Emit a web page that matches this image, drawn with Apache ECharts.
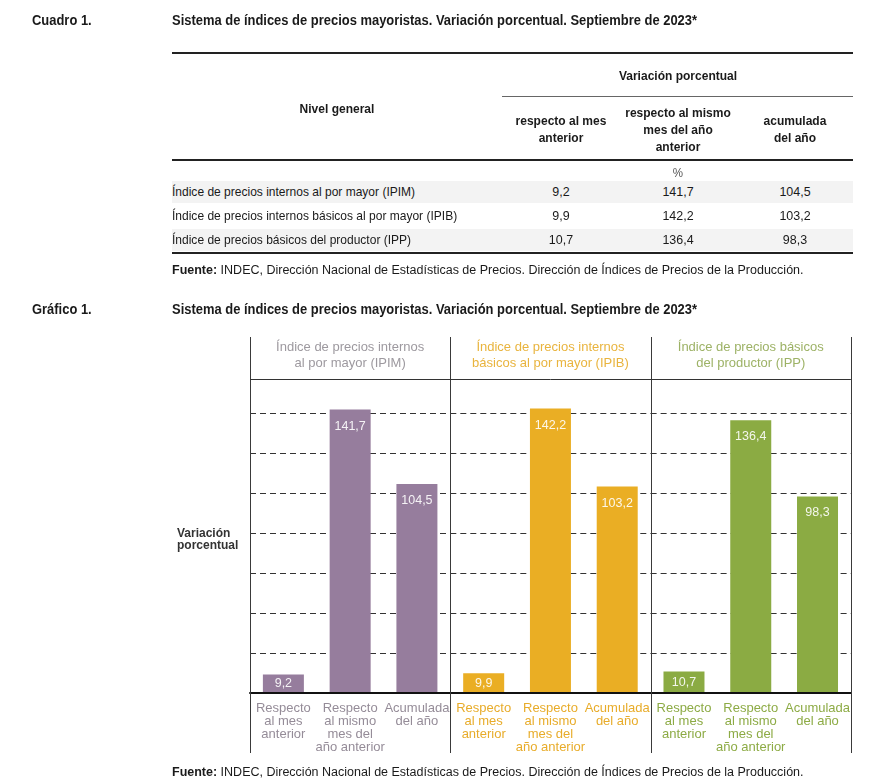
<!DOCTYPE html>
<html><head><meta charset="utf-8">
<script src="https://cdn.jsdelivr.net/npm/echarts@6/dist/echarts.min.js"></script>
<style>
body{margin:0;background:#fff;}
#wrap{position:relative;width:885px;height:784px;overflow:hidden;background:#fff;}
#chart{position:absolute;left:0;top:0;width:885px;height:784px;}
.t{position:absolute;white-space:nowrap;color:#1a1a1a;line-height:16px;}
.nb{font-family:"Liberation Sans",Arial,sans-serif;font-weight:bold;font-size:14px;}
.nr{font-family:"Liberation Sans",Arial,sans-serif;font-size:13px;}
.hd{font-family:"Liberation Sans",Arial,sans-serif;font-weight:bold;font-size:13px;text-align:center;line-height:17px;}
.src{font-family:"Liberation Sans",Arial,sans-serif;font-size:12.5px;}
.rule{position:absolute;background:#222;}
.shade{position:absolute;background:#f3f3f3;}
.c{text-align:center;transform-origin:50% 50%;}
.l{transform-origin:0 50%;}
</style>
</head><body>
<div id="wrap">
<div id="chart"></div>
<div id="topText"></div>
</div>
<script>
// ---------- data ----------
const tableTitle = 'Sistema de índices de precios mayoristas. Variación porcentual. Septiembre de 2023*';
const rowNames = [
  'Índice de precios internos al por mayor (IPIM)',
  'Índice de precios internos básicos al por mayor (IPIB)',
  'Índice de precios básicos del productor (IPP)'
];
const columnHeaders = ['respecto al mes\nanterior', 'respecto al mismo\nmes del año\nanterior', 'acumulada\ndel año'];
const panelTitles = [
  'Índice de precios internos\nal por mayor (IPIM)',
  'Índice de precios internos\nbásicos al por mayor (IPIB)',
  'Índice de precios básicos\ndel productor (IPP)'
];
const categoryLabels = ['Respecto\nal mes\nanterior', 'Respecto\nal mismo\nmes del\naño anterior', 'Acumulada\ndel año'];
const ipimValues = [9.2, 141.7, 104.5];
const ipibValues = [9.9, 142.2, 103.2];
const ippValues = [10.7, 136.4, 98.3];
const yMin = 0, yMax = 157, yInterval = 20;
const sourceText = 'INDEC, Dirección Nacional de Estadísticas de Precios. Dirección de Índices de Precios de la Producción.';

const seriesValues = [ipimValues, ipibValues, ippValues];
const barColors = ['#967d9d', '#eaae24', '#8bab43'];
const headColors = ['#9d999f', '#e9b43e', '#9db266'];
const labelColors = ['#958c98', '#e8ac2a', '#8dab45'];
const fmt = v => v.toFixed(1).replace('.', ',');

// ---------- HTML table ----------
const topEl = document.getElementById('topText');
const narrowEls = [];
function add(cls, txt, x, y, extra, narrow) {
  const d = document.createElement('div');
  d.className = 't ' + cls;
  d.style.left = x + 'px'; d.style.top = y + 'px';
  if (extra) Object.assign(d.style, extra);
  d.innerHTML = txt;
  topEl.appendChild(d);
  narrowEls.push({d, c: cls.slice(-1) === 'c', narrow: narrow !== false});
  return d;
}
function rule(x, y, w, h, col) {
  const d = document.createElement('div');
  d.className = 'rule';
  Object.assign(d.style, {left: x + 'px', top: y + 'px', width: w + 'px', height: h + 'px'});
  if (col) d.style.background = col;
  topEl.appendChild(d);
}
function shade(x, y, w, h) {
  const d = document.createElement('div');
  d.className = 'shade';
  Object.assign(d.style, {left: x + 'px', top: y + 'px', width: w + 'px', height: h + 'px'});
  topEl.appendChild(d);
}
const esc = s => s.replace(/\n/g, '<br>');
add('nb l', 'Cuadro 1.', 32, 20);
const titleEl = add('nb l', tableTitle, 172, 20);
rule(172, 52, 681, 2);
add('hd c', 'Variación porcentual', 678, 75);
rule(502, 96, 351, 1, '#666');
add('hd c', 'Nivel general', 337, 108);
const colX = [561, 678, 795];
columnHeaders.forEach((h, i) => add('hd c', esc(h), colX[i], 129));
rule(172, 159, 681, 2);
add('nr c', '%', 678, 173, {color: '#555', fontSize: '12.5px'});
const rowY = [192, 216, 240];
shade(172, 181, 681, 22);
shade(172, 229, 681, 22);
rowNames.forEach((n, r) => {
  add('nr l', n, 172, rowY[r]);
  seriesValues[r].forEach((v, c) => add('nr c', fmt(v), colX[c], rowY[r], {fontSize: '13.5px'}));
});
rule(172, 252, 681, 1.5);
add('src l', '<b>Fuente:</b> ' + sourceText, 172, 270, null, false);
add('nb l', 'Gráfico 1.', 32, 309);
add('nb l', tableTitle, 172, 309);
add('src l', '<b>Fuente:</b> ' + sourceText, 172, 772, null, false);

// condensed look: scale horizontally so the title matches its printed width
const s = 525 / titleEl.offsetWidth;
narrowEls.forEach(o => {
  const sx = o.narrow ? s : 1;
  o.d.style.transform = o.c ? `translate(-50%,-50%) scaleX(${sx})` : `translateY(-50%) scaleX(${sx})`;
});

// ---------- chart ----------
const chart = echarts.init(document.getElementById('chart'), null, {renderer: 'canvas'});
const gLeft = 250, gTop = 379, gW = 200.3, gBottom = 91;
const grids = [], xAxes = [], yAxes = [], series = [];
for (let i = 0; i < 3; i++) {
  grids.push({left: gLeft + gW * i, top: gTop, width: gW, bottom: gBottom, containLabel: false});
  xAxes.push({
    type: 'category', gridIndex: i, data: categoryLabels,
    axisLine: {show: true, lineStyle: {color: '#111', width: 2}},
    axisTick: {show: false},
    axisLabel: {interval: 0, color: labelColors[i], fontSize: 13, lineHeight: 13, margin: 9,
      fontFamily: '"Liberation Sans", Arial, sans-serif'},
    z: 5
  });
  yAxes.push({
    type: 'value', gridIndex: i, min: yMin, max: yMax, interval: yInterval,
    axisLine: {show: false}, axisTick: {show: false}, axisLabel: {show: false},
    splitLine: {show: true, showMinLine: false, showMaxLine: false,
      lineStyle: {color: '#333', width: 1, type: [6, 4]}}
  });
  series.push({
    type: 'bar', xAxisIndex: i, yAxisIndex: i,
    data: seriesValues[i].map(v => ({
      value: v,
      label: {position: v < 20 ? 'inside' : 'insideTop'}
    })),
    barWidth: 41,
    itemStyle: {color: barColors[i]},
    label: {show: true, distance: 10, color: 'rgba(255,255,255,0.9)', fontSize: 12.5,
      fontFamily: '"Liberation Sans", Arial, sans-serif',
      formatter: p => fmt(p.value)},
    z: 3
  });
}
const graphic = [];
const vTop = 337, vBot = 753;
for (let i = 0; i <= 3; i++) {
  const x = Math.round(gLeft + gW * i) + 0.5;
  graphic.push({type: 'line', shape: {x1: x, y1: vTop, x2: x, y2: vBot},
    style: {stroke: '#3a3a3a', lineWidth: 1}, z: 10});
}
graphic.push({type: 'line', shape: {x1: gLeft, y1: gTop + 0.5, x2: gLeft + gW * 3, y2: gTop + 0.5},
  style: {stroke: '#333', lineWidth: 1}, z: 10});
panelTitles.forEach((t, i) => {
  graphic.push({type: 'text', x: gLeft + gW * i + gW / 2, y: 355, z: 10,
    style: {text: t, fill: headColors[i], font: '13px "Liberation Sans", Arial, sans-serif',
      align: 'center', verticalAlign: 'middle', lineHeight: 16}});
});
graphic.push({type: 'text', x: 177, y: 540, z: 10,
  style: {text: 'Variación\nporcentual', fill: '#333', font: 'bold 12px "Liberation Sans", Arial, sans-serif',
    align: 'left', verticalAlign: 'middle', lineHeight: 12}});

chart.setOption({
  animation: false,
  backgroundColor: 'transparent',
  grid: grids, xAxis: xAxes, yAxis: yAxes, series: series, graphic: graphic
});
</script>
</body></html>
